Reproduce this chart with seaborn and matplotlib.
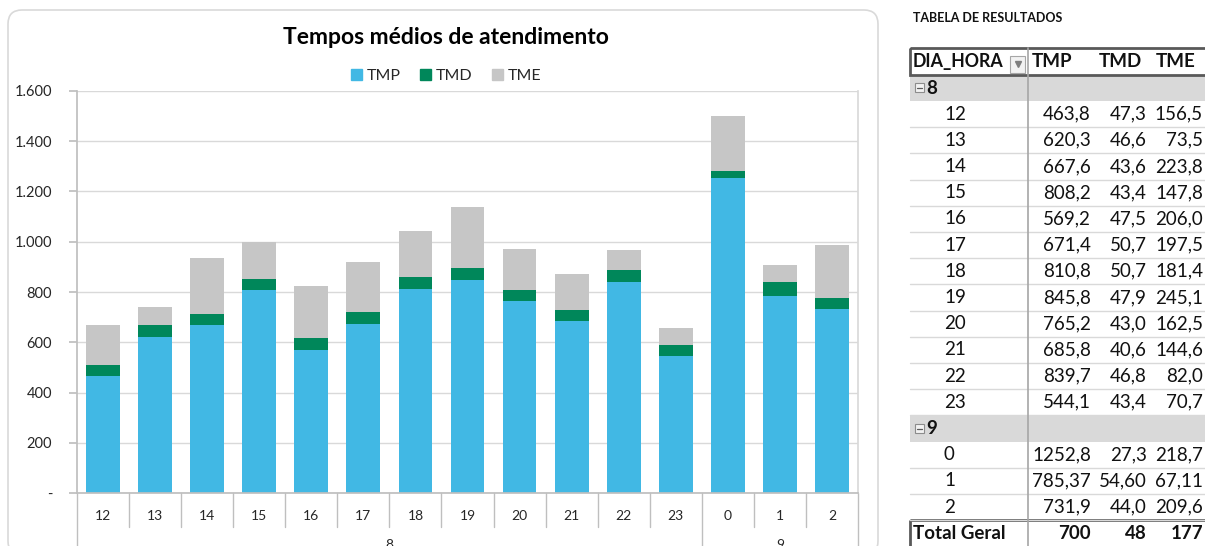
import numpy as np
import pandas as pd
import matplotlib
matplotlib.use('Agg')
import matplotlib.pyplot as plt
import matplotlib.transforms as mtransforms
from matplotlib.patches import Patch, FancyBboxPatch, Rectangle
import seaborn as sns

dias = ['8'] * 12 + ['9'] * 3
horas = ['12', '13', '14', '15', '16', '17', '18', '19', '20', '21', '22', '23', '0', '1', '2']
tmp = [463.8, 620.3, 667.6, 808.2, 569.2, 671.4, 810.8, 845.8, 765.2, 685.8, 839.7, 544.1, 1252.8, 785.37, 731.9]
tmd = [47.3, 46.6, 43.6, 43.4, 47.5, 50.7, 50.7, 47.9, 43.0, 40.6, 46.8, 43.4, 27.3, 54.60, 44.0]
tme = [156.5, 73.5, 223.8, 147.8, 206.0, 197.5, 181.4, 245.1, 162.5, 144.6, 82.0, 70.7, 218.7, 67.11, 209.6]
casas = [1] * 13 + [2] + [1]
total_geral = [700, 48, 177]
series = ['TMP', 'TMD', 'TME']
cores = ['#41B8E4', '#00875A', '#C6C6C6']
yticks = [0, 200, 400, 600, 800, 1000, 1200, 1400, 1600]

sns.set_theme(style='white')
plt.rcParams['font.family'] = ['Lato', 'DejaVu Sans']

df = pd.DataFrame({'dia': dias, 'hora': horas, 'TMP': tmp, 'TMD': tmd, 'TME': tme})
df['chave'] = df['dia'] + '-' + df['hora']
df['ate_tmd'] = df['TMP'] + df['TMD']
df['ate_tme'] = df['ate_tmd'] + df['TME']

W, H = 1205, 546
fig = plt.figure(figsize=(W / 100, H / 100), dpi=100)
bg = fig.add_axes([0, 0, 1, 1], zorder=0)
bg.set_xlim(0, W)
bg.set_ylim(H, 0)
bg.axis('off')

# moldura do grafico
bg.add_patch(FancyBboxPatch((8, 10), 870, 545, boxstyle='round,pad=0,rounding_size=14',
                            fc='white', ec='#D9D9D9', lw=1.2))

ax = fig.add_axes([77 / W, 1 - 493 / H, (858 - 77) / W, (493 - 91) / H], zorder=2)
ax.patch.set_alpha(0)
ordem = list(df['chave'])
# barras empilhadas: total em cinza, depois TMP+TMD em verde, TMP em azul
for col, cor in zip(['ate_tme', 'ate_tmd', 'TMP'], cores[::-1]):
    sns.barplot(data=df, x='chave', y=col, order=ordem, color=cor, saturation=1,
                width=0.65, errorbar=None, linewidth=0, ax=ax)

ax.set_xlim(-0.5, len(horas) - 0.5)
ax.set_ylim(0, 1600)
ax.set_yticks(yticks)
ax.set_yticklabels(['-' if v == 0 else f'{v:,.0f}'.replace(',', '.') for v in yticks])
ax.set_xticks(range(len(horas)))
ax.set_xticklabels(horas)
ax.set_xlabel('')
ax.set_ylabel('')
ax.yaxis.grid(True, color='#D9D9D9', lw=1)
ax.set_axisbelow(True)
ax.spines['top'].set_visible(False)
ax.spines['left'].set_color('#BFBFBF')
ax.spines['bottom'].set_color('#BFBFBF')
ax.spines['right'].set_color('#D9D9D9')
ax.tick_params(axis='y', length=6, color='#BFBFBF', labelsize=10.5, pad=12, labelcolor='#262626', left=True)
ax.tick_params(axis='x', length=0, labelsize=10, pad=12, labelcolor='#262626')

# linhas de separacao das categorias
trans = mtransforms.blended_transform_factory(ax.transData, ax.transAxes)
grupos = [0] + [i for i in range(1, len(dias)) if dias[i] != dias[i - 1]] + [len(dias)]
for i in range(len(horas) + 1):
    d = (560 - 493) / 402 if i in grupos else (527 - 493) / 402
    ax.plot([i - 0.5, i - 0.5], [0, -d], transform=trans, clip_on=False, color='#BFBFBF', lw=1)
for a, b in zip(grupos[:-1], grupos[1:]):
    ax.text((a + b - 1) / 2, -(539 - 493) / 402, dias[a], transform=trans, ha='center', va='top',
            fontsize=10, color='#262626')

fig.text(446 / W, 1 - 37 / H, 'Tempos médios de atendimento', ha='center', va='center',
         fontsize=16.5, fontweight='bold', color='black')
fig.legend(handles=[Patch(color=c, label=s) for s, c in zip(series, cores)], loc='center',
           bbox_to_anchor=(446 / W, 1 - 76 / H), ncol=3, frameon=False, fontsize=11.5,
           handlelength=0.7, handleheight=0.7, handletextpad=0.3, columnspacing=1.2)

# tabela de resultados
x0, xr, xdiv = 910, 1210, 1028
topo, rh = 74.8, 26.2
xs_val = [1091, 1147, 1203]
cor_txt = '#111111'
fs = 13.5
bg.text(913, 18, 'TABELA DE RESULTADOS', fontsize=9, fontweight='bold', va='center', color=cor_txt)
bg.text(913, 61.5, 'DIA_HORA', fontsize=12.8, fontweight='bold', va='center', color=cor_txt)
for s, x in zip(series, [1032, 1099, 1156]):
    bg.text(x, 61.5, s, fontsize=fs, fontweight='bold', va='center', color=cor_txt)
bg.add_patch(Rectangle((1010, 55.5), 15, 17, fc='#F2F2F2', ec='#A6A6A6', lw=0.8))
bg.plot([1017.5], [64], marker='v', ms=4, color='#7F7F7F')

k = 0
for i in range(len(horas)):
    if i == 0 or dias[i] != dias[i - 1]:
        yt = topo + k * rh
        c = yt + rh / 2
        bg.add_patch(Rectangle((x0, yt), xr - x0, rh, fc='#D9D9D9', ec='none'))
        bg.add_patch(Rectangle((915, c - 4.5), 9, 9, fc='#F2F2F2', ec='#8C8C8C', lw=0.8))
        bg.plot([917, 922], [c, c], color='#595959', lw=0.9)
        bg.text(926, c + 0.5, dias[i], fontsize=fs, fontweight='bold', va='center', color=cor_txt)
        k += 1
    yt = topo + k * rh
    c = yt + rh / 2
    bg.text(944, c, horas[i], fontsize=fs, va='center', color=cor_txt)
    for v, x in zip([tmp[i], tmd[i], tme[i]], xs_val):
        bg.text(x, c, f'{v:.{casas[i]}f}'.replace('.', ','), fontsize=fs, va='center', ha='right', color=cor_txt)
    bg.plot([x0, xr], [yt + rh, yt + rh], color='#D9D9D9', lw=1)
    k += 1

yt = topo + k * rh
c = yt + rh / 2
bg.plot([xdiv, xdiv], [47.5, H], color='#A6A6A6', lw=1.2)
bg.add_patch(Rectangle((x0, 47.5), xr - x0, topo - 47.5, fill=False, ec='#595959', lw=2))
bg.add_patch(Rectangle((x0, yt), xr - x0, 40, fill=False, ec='#595959', lw=2))
bg.text(913, c, 'Total Geral', fontsize=fs, fontweight='bold', va='center', color=cor_txt)
for v, x in zip(total_geral, xs_val):
    bg.text(x, c, str(v), fontsize=fs, fontweight='bold', va='center', ha='right', color=cor_txt)

fig.savefig('out.png', dpi=100)
